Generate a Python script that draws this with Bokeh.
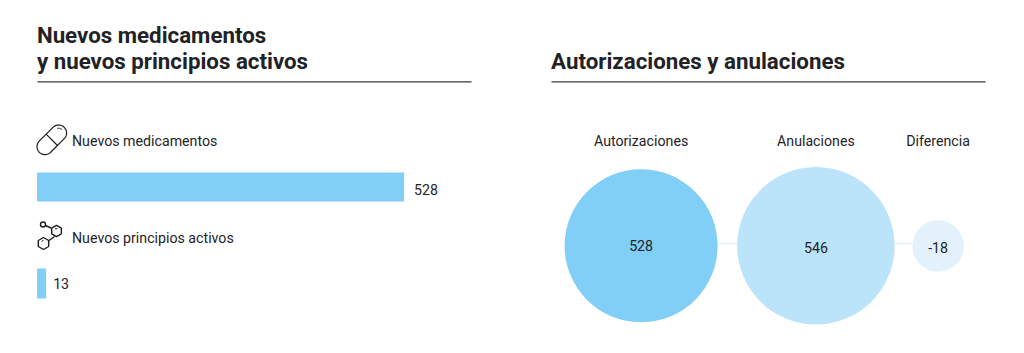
import numpy as np
from bokeh.core.properties import value
from bokeh.embed import file_html
from bokeh.models import Range1d
from bokeh.plotting import figure
from bokeh.resources import INLINE

# ---- data ----
bar_labels = ["Nuevos medicamentos", "Nuevos principios activos"]
bar_values = [528, 13]
circle_labels = ["Autorizaciones", "Anulaciones", "Diferencia"]
circle_values = [528, 546, -18]
title_left = ["Nuevos medicamentos", "y nuevos principios activos"]
title_right = "Autorizaciones y anulaciones"

# ---- layout / style (page pixels) ----
FONT = "Roboto"
INK = "#1f2326"
BAR = "#81cef6"
CIRCLE_COLORS = ["#81cef6", "#bbe3fa", "#e2f1fc"]
CIRCLE_X = [640.6, 815.4, 937.6]
CIRCLE_Y = [245.3, 245.3, 245.5]
CIRCLE_R = [76.5, 78.7, 25.8]
BAR_Y = [186.4, 283]
BAR_H = [29, 30]
X0, PX_PER_UNIT = 36.6, 367 / 528
W, H = 1008, 337

p = figure(width=W, height=H, output_backend="svg", toolbar_location=None,
           x_range=Range1d(0, W), y_range=Range1d(H, 0),
           min_border=0, outline_line_color=None, background_fill_color="white")
p.axis.visible = False
p.grid.visible = False
p.extra_x_ranges["bars"] = Range1d((0 - X0) / PX_PER_UNIT, (W - X0) / PX_PER_UNIT)


def txt(x, y, s, size=14.2, weight="normal", align="left", base="middle", rng="default"):
    p.text(x=[x], y=[y], text=[s], text_font=value(FONT), text_font_size=f"{size}px",
           text_font_style=weight, text_color=INK, text_align=align, text_baseline=base,
           x_range_name=rng)


# titles and rules
txt(36.4, 34.2, title_left[0], size=22.3, weight="bold")
txt(36.4, 60.2, title_left[1], size=22.3, weight="bold")
txt(550.6, 60.2, title_right, size=22.3, weight="bold")
p.segment(x0=[37, 551], x1=[471, 985], y0=[81.4, 81.4], y1=[81.4, 81.4],
          line_color="#3a3a3a", line_width=1.3)

# bars
p.hbar(y=BAR_Y, left=[0, 0], right=bar_values, height=BAR_H, fill_color=BAR,
       line_color=None, x_range_name="bars")
txt(bar_values[0], 188.8, str(bar_values[0]), rng="bars")
p.renderers[-1].glyph.x_offset = 10
txt(bar_values[1], 282.6, str(bar_values[1]), rng="bars")
p.renderers[-1].glyph.x_offset = 7
txt(71.5, 140.2, bar_labels[0])
txt(71.5, 237.2, bar_labels[1])

# pill icon
cx, cy, L, r = 51.3, 139.3, 9.6, 8
t = np.linspace(-np.pi / 2, np.pi / 2, 40)
u = np.r_[L + r * np.cos(t), -L - r * np.cos(t), L + r * np.cos(t[0])]
v_ = np.r_[r * np.sin(t), r * np.sin(t[::-1]), r * np.sin(t[0])]
a = -np.pi / 4
rot = lambda uu, vv: (cx + uu * np.cos(a) - vv * np.sin(a), cy + uu * np.sin(a) + vv * np.cos(a))
ICON = "#1d1d1d"
p.line(*rot(u, v_), line_color=ICON, line_width=1.2)
p.line(*rot(np.array([0, 0]), np.array([-r, r])), line_color=ICON, line_width=1.2)
t2 = np.linspace(-1.1, 0.1, 12)
p.line(*rot(L + (r - 3.2) * np.cos(t2), (r - 3.2) * np.sin(t2)), line_color=ICON, line_width=1)

# molecule icon
def hexagon(x, y, rad):
    ang = np.deg2rad(np.arange(0, 361, 60) + 30)
    p.line(x + rad * np.cos(ang), y + rad * np.sin(ang), line_color=ICON, line_width=1.4)
hexagon(56, 230.5, 5.6)
hexagon(43, 243, 6)
p.circle(x=[42.5], y=[224], radius=2.5, fill_color="white", line_color=ICON, line_width=1.4)
p.line([45, 50.5], [225, 227.5], line_color=ICON, line_width=1.4)
p.line([48.5, 54], [240, 236], line_color=ICON, line_width=1.4)
p.line([54.5, 57], [228.2, 228.2], line_color=ICON, line_width=1)
p.line([41, 43], [241, 239.8], line_color=ICON, line_width=1)

# circles
p.segment(x0=[717, 894], x1=[737, 912], y0=[243, 243], y1=[243, 243],
          line_color="#e8f4fb", line_width=1.3)
p.circle(x=CIRCLE_X, y=CIRCLE_Y, radius=CIRCLE_R, fill_color=CIRCLE_COLORS, line_color=None)
for x, s in zip(CIRCLE_X, circle_labels):
    txt(x, 140.2, s, align="center")
for x, y, val in zip(CIRCLE_X, [245.2, 247.2, 247.2], circle_values):
    txt(x, y, str(val), align="center")

open("out.html", "w").write(file_html(p, INLINE))
